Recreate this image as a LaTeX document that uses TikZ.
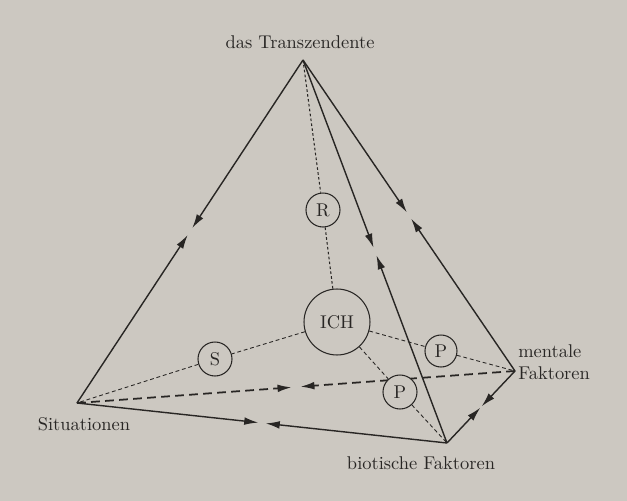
\documentclass[tikz,border=0pt]{standalone}
\usetikzlibrary{arrows.meta,calc}
\definecolor{paper}{RGB}{204,200,193}
\definecolor{ink}{RGB}{40,38,36}

\begin{document}
\begin{tikzpicture}[x=0.02cm,y=-0.02cm,>={Latex[length=8pt,width=4.4pt]},font=\fontsize{10.5}{12.5}\selectfont,text=ink,
 pole/.style={circle,draw=ink,fill=paper,line width=0.6pt,inner sep=0pt,minimum size=0.68cm},
 edge/.style={->,ink,line width=0.8pt},
 link/.style={ink,line width=0.5pt,dash pattern=on 2.2pt off 1.6pt}]
 \fill[paper] (0,0) rectangle (627,501);
 \coordinate (T) at (303,60); \coordinate (Si) at (77,403); \coordinate (B) at (447,443); \coordinate (M) at (515,371);
 \node (lT) at (300,42) {das Transzendente};
 \node (lSi) at (84,424) {Situationen};
 \node (lB) at (421,463) {biotische Faktoren};
 \node[align=left,anchor=west,inner xsep=0pt] (lM) at (518,362) {mentale\\Faktoren};
 % back edge, dashed
 \draw[edge,line width=1pt,dash pattern=on 5pt off 3pt] (Si) -- ($(Si)!0.49!(M)$);
 \draw[edge,line width=1pt,dash pattern=on 5pt off 3pt] (M) -- ($(M)!0.49!(Si)$);
 % the other edges meet half way
 \foreach \a/\b in {T/Si,T/B,T/M,Si/B,B/M} {
  \draw[edge] (\a) -- ($(\a)!0.49!(\b)$);
  \draw[edge] (\b) -- ($(\b)!0.49!(\a)$);
 }
 \node[pole] (R) at (323,210) {R};
 \node[pole,minimum size=1.32cm] (ich) at (337,322) {ICH};
 \node[pole] (S) at (215,359) {S};
 \node[pole,minimum size=0.64cm] (Pm) at (441,351) {P};
 \node[pole] (Pb) at (400,392) {P};
 \draw[ink,line width=0.6pt,dash pattern=on 1.5pt off 1.3pt] (T) -- (R) (R) -- (ich);
 \draw[link] (ich) -- (S) (S) -- (Si);
 \draw[link] (ich) -- (Pm) (Pm) -- (M);
 \draw[link] (ich) -- (Pb) (Pb) -- (B);
\end{tikzpicture}
\end{document}
